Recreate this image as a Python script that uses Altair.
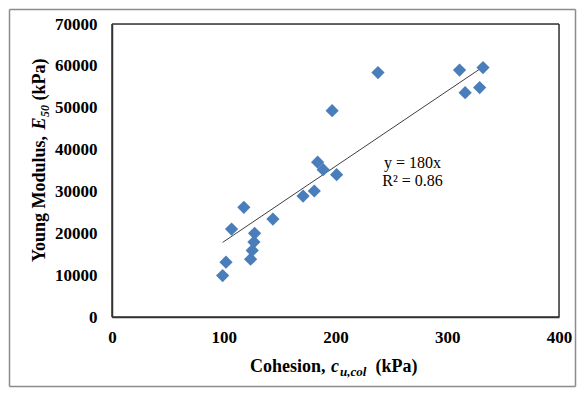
import altair as alt
import pandas as pd

# data
cohesion = [99, 102, 107, 118, 124, 125.5, 127, 127.6, 144, 171, 181, 184, 189, 201, 197, 238, 311, 332, 316, 329]
modulus = [9900, 13100, 21000, 26200, 13800, 15900, 17900, 20000, 23400, 28900, 30100, 37000, 35200, 34000, 49300, 58400, 59000, 59600, 53600, 54800]
x_ticks = [0, 100, 200, 300, 400]
y_ticks = [0, 10000, 20000, 30000, 40000, 50000, 60000, 70000]
slope = 180
r2 = 0.86

df = pd.DataFrame({"x": cohesion, "y": modulus})
xmin, xmax = min(cohesion), max(cohesion)
trend = pd.DataFrame({"x": [xmin, xmax], "y": [slope * xmin, slope * xmax]})

W, H = 447, 293
PL, PT = 104, 16
TOTW, TOTH = 569, 380
FONT = "Liberation Serif"

xs = alt.Scale(domain=[x_ticks[0], x_ticks[-1]], nice=False, zero=True)
ys = alt.Scale(domain=[y_ticks[0], y_ticks[-1]], nice=False, zero=True)

xaxis = alt.Axis(values=x_ticks, format="d", title=None, labelFont=FONT, labelFontSize=17,
                 labelFontWeight="bold", labelColor="black", labelPadding=12, ticks=False,
                 domain=True, domainColor="#333333", domainWidth=1.5, grid=False, labelFlush=False)
yaxis = alt.Axis(values=y_ticks, format="d", title=None, labelFont=FONT, labelFontSize=17,
                 labelFontWeight="bold", labelColor="black", labelPadding=15, ticks=False,
                 domain=True, domainColor="#333333", domainWidth=1.5, grid=False, labelFlush=False)

points = alt.Chart(df).mark_point(shape="diamond", filled=True, size=175, color="#4A7EBB", opacity=1).encode(
    x=alt.X("x:Q", scale=xs, axis=xaxis),
    y=alt.Y("y:Q", scale=ys, axis=yaxis),
)

line = alt.Chart(trend).mark_line(color="#404040", strokeWidth=1).encode(
    x=alt.X("x:Q", scale=xs), y=alt.Y("y:Q", scale=ys)
)

def txt(text, x, y, size=18, weight="bold", style="normal", angle=0, align="left", baseline="alphabetic"):
    return alt.Chart(pd.DataFrame({"t": [text]})).mark_text(
        font=FONT, fontSize=size, fontWeight=weight, fontStyle=style, angle=angle,
        align=align, baseline=baseline, color="black"
    ).encode(text="t:N", x=alt.value(x), y=alt.value(y))

# equation annotation
eq1 = txt(f"y = {slope}x", 300.5, 138.7, size=16, weight="normal", align="center", baseline="middle")
eq2 = txt(f"R² = {r2}", 300.5, 157.4, size=16, weight="normal", align="center", baseline="middle")

# x axis title pieces
xt = [
    txt("Cohesion,", 138, 348),
    txt("c", 219, 348, style="italic"),
    txt("u,col", 228, 352, size=13, style="italic"),
    txt("(kPa)", 263.5, 348),
]
# y axis title pieces (rotated)
bx = -67
yt = [
    txt("Young Modulus,", bx, 238, angle=270),
    txt("E", bx, 105.5, angle=270, style="italic"),
    txt("50", bx + 4, 93, size=12, angle=270, style="italic"),
    txt("(kPa)", bx, 76.5, angle=270),
]

one = pd.DataFrame({"a": [0]})

# plot frame drawn in pixel space around the plot area
FR = dict(color="#333333", strokeWidth=1.5)
fl, fr_, ft, fb = 0, W, 0, H
f_top = alt.Chart(one).mark_rule(**FR).encode(x=alt.value(fl), x2=alt.value(fr_), y=alt.value(ft))
f_bot = alt.Chart(one).mark_rule(**FR).encode(x=alt.value(fl), x2=alt.value(fr_), y=alt.value(fb))
f_left = alt.Chart(one).mark_rule(**FR).encode(x=alt.value(fl), y=alt.value(ft), y2=alt.value(fb))
f_right = alt.Chart(one).mark_rule(**FR).encode(x=alt.value(fr_), y=alt.value(ft), y2=alt.value(fb))

# outer border as four rules in pixel space
L, R, T, B = -PL + 1.5, TOTW - PL - 1.5, -PT + 1.5, TOTH - PT - 1.5
BR = dict(color="#8c8c8c", strokeWidth=1.5)
b_top = alt.Chart(one).mark_rule(**BR).encode(x=alt.value(L), x2=alt.value(R), y=alt.value(T))
b_bot = alt.Chart(one).mark_rule(**BR).encode(x=alt.value(L), x2=alt.value(R), y=alt.value(B))
b_left = alt.Chart(one).mark_rule(**BR).encode(x=alt.value(L), y=alt.value(T), y2=alt.value(B))
b_right = alt.Chart(one).mark_rule(**BR).encode(x=alt.value(R), y=alt.value(T), y2=alt.value(B))

chart = alt.layer(b_top, b_bot, b_left, b_right, f_top, f_bot, f_left, f_right, line, points,
                  eq1, eq2, *xt, *yt).properties(
    width=W, height=H,
    autosize=alt.AutoSizeParams(type="none"),
    padding={"left": PL, "top": PT, "right": TOTW - PL - W, "bottom": TOTH - PT - H},
).configure_view(stroke="#333333", strokeWidth=1.5).configure(background="white")

chart.save("out.html", embed_options={"renderer": "svg", "actions": False})
